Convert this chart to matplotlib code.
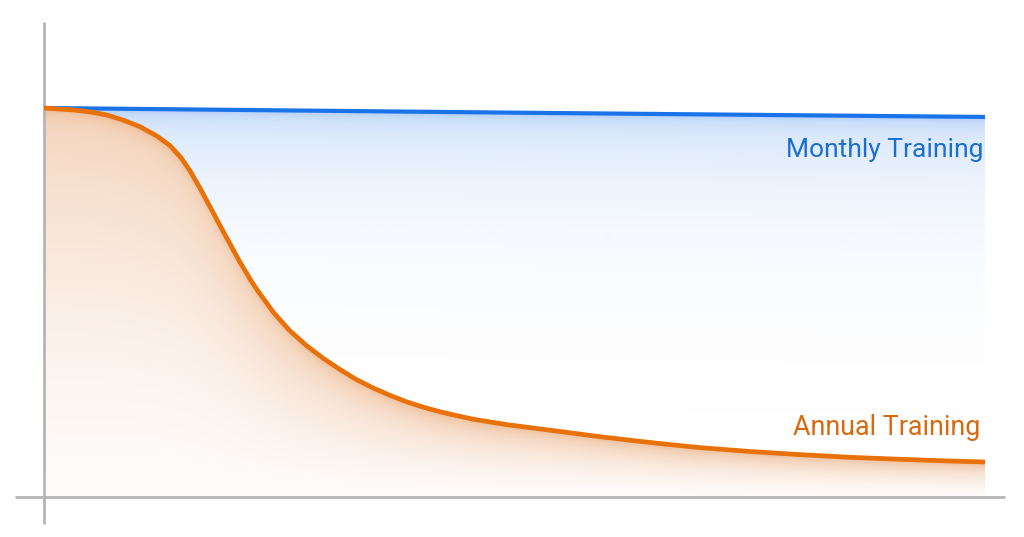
import matplotlib
matplotlib.use("Agg")
import matplotlib.pyplot as plt
import numpy as np

# Data -----------------------------------------------------------
# time runs 0..100, retained knowledge in percent
annual_x = [0, 3.1, 4.9, 6.7, 8.4, 10.2, 12.0, 13.4, 14.5, 15.5, 16.6, 17.6,
            18.7, 19.8, 20.8, 21.9, 22.6, 24.4, 26.1, 27.9, 29.7, 31.5, 33.2,
            35.0, 36.8, 38.5, 40.3, 42.1, 43.9, 45.6, 49.2, 52.7, 55.6, 59.1,
            62.6, 66.0, 69.7, 75.0, 80.3, 85.7, 91.0, 96.3, 100]
annual_y = [100, 99.5, 99.0, 98.2, 96.9, 95.2, 92.8, 90.3, 87.4, 83.9, 79.3, 74.8,
            69.8, 64.9, 60.5, 56.0, 53.4, 47.4, 42.8, 38.9, 35.6, 32.7, 30.2,
            28.0, 26.1, 24.5, 23.1, 21.9, 20.9, 20.0, 18.6, 17.5, 16.6, 15.5,
            14.5, 13.6, 12.7, 11.7, 10.9, 10.2, 9.7, 9.25, 9.0]
monthly_x = [0, 50, 100]
monthly_y = [100, 98.8, 97.7]

labels = ["Monthly Training", "Annual Training"]

blue = "#1a73e8"
orange = "#e8710a"
grey = "#b5b5b5"

# pixel scale of the reference (px per data unit)
px_x = 9.41
px_y = 3.89

fig = plt.figure(figsize=(10.24, 5.37), dpi=100)
ax = fig.add_axes([0, 0, 1, 1])
ax.set_xlim(-44 / px_x, 980 / px_x)
ax.set_ylim(-40 / px_y, 497 / px_y)
ax.axis("off")

# Gradient shading under the curves --------------------------------
gx = np.linspace(0, 100, 942)
gy = np.linspace(0, 100, 390)
GX, GY = np.meshgrid(gx, gy)
ya = np.interp(gx, annual_x, annual_y)[None, :]
ym = np.interp(gx, monthly_x, monthly_y)[None, :]

rgba = np.zeros(GX.shape + (4,))

# blue band between the two curves
in_blue = (GY > ya) & (GY <= ym)
d_b = (ym - GY) * px_y
a_b = 0.21 * np.exp(-d_b / 75) + 0.14 * np.exp(-d_b / 6)
c_b = np.array(matplotlib.colors.to_rgb(blue))
rgba[..., :3] = c_b
rgba[..., 3] = np.where(in_blue, a_b, 0)

# orange area below the annual curve
in_or = GY <= ya
t = np.clip(1 - GY / ya, 0, 1)
d_o = (ya - GY) * px_y
a_o = 0.32 * (1 - t) ** 1.5 + 0.03 + 0.22 * np.exp(-d_o / 8)
c_o = np.array([0.88, 0.53, 0.27])
rgba[..., :3] = np.where(in_or[..., None], c_o, rgba[..., :3])
rgba[..., 3] = np.where(in_or, np.clip(a_o, 0, 1), rgba[..., 3])

ax.imshow(rgba, extent=[0, 100, 0, 100], origin="lower", aspect="auto",
          interpolation="bilinear", zorder=1)

# Axis lines ----------------------------------------------------
ax.plot([0, 0], [-27 / px_y, 475 / px_y], color=grey, lw=2, zorder=2,
        solid_capstyle="butt")
ax.plot([-29 / px_x, 961 / px_x], [0, 0], color=grey, lw=2, zorder=2,
        solid_capstyle="butt")

# Curves --------------------------------------------------------
ax.plot(monthly_x, monthly_y, color=blue, lw=3, zorder=4,
        solid_capstyle="butt")
ax.plot(annual_x, annual_y, color=orange, lw=3.4, zorder=5,
        solid_capstyle="butt", solid_joinstyle="round")

# Labels --------------------------------------------------------
ax.text(99.8, 87.4, labels[0], color="#1b6fcf", fontsize=19,
        family="Roboto", ha="right", va="baseline", zorder=6)
ax.text(99.5, 15.9, labels[1], color="#d8690f", fontsize=19.4,
        family="Roboto", ha="right", va="baseline", zorder=6)

fig.savefig("out.png", dpi=100)
